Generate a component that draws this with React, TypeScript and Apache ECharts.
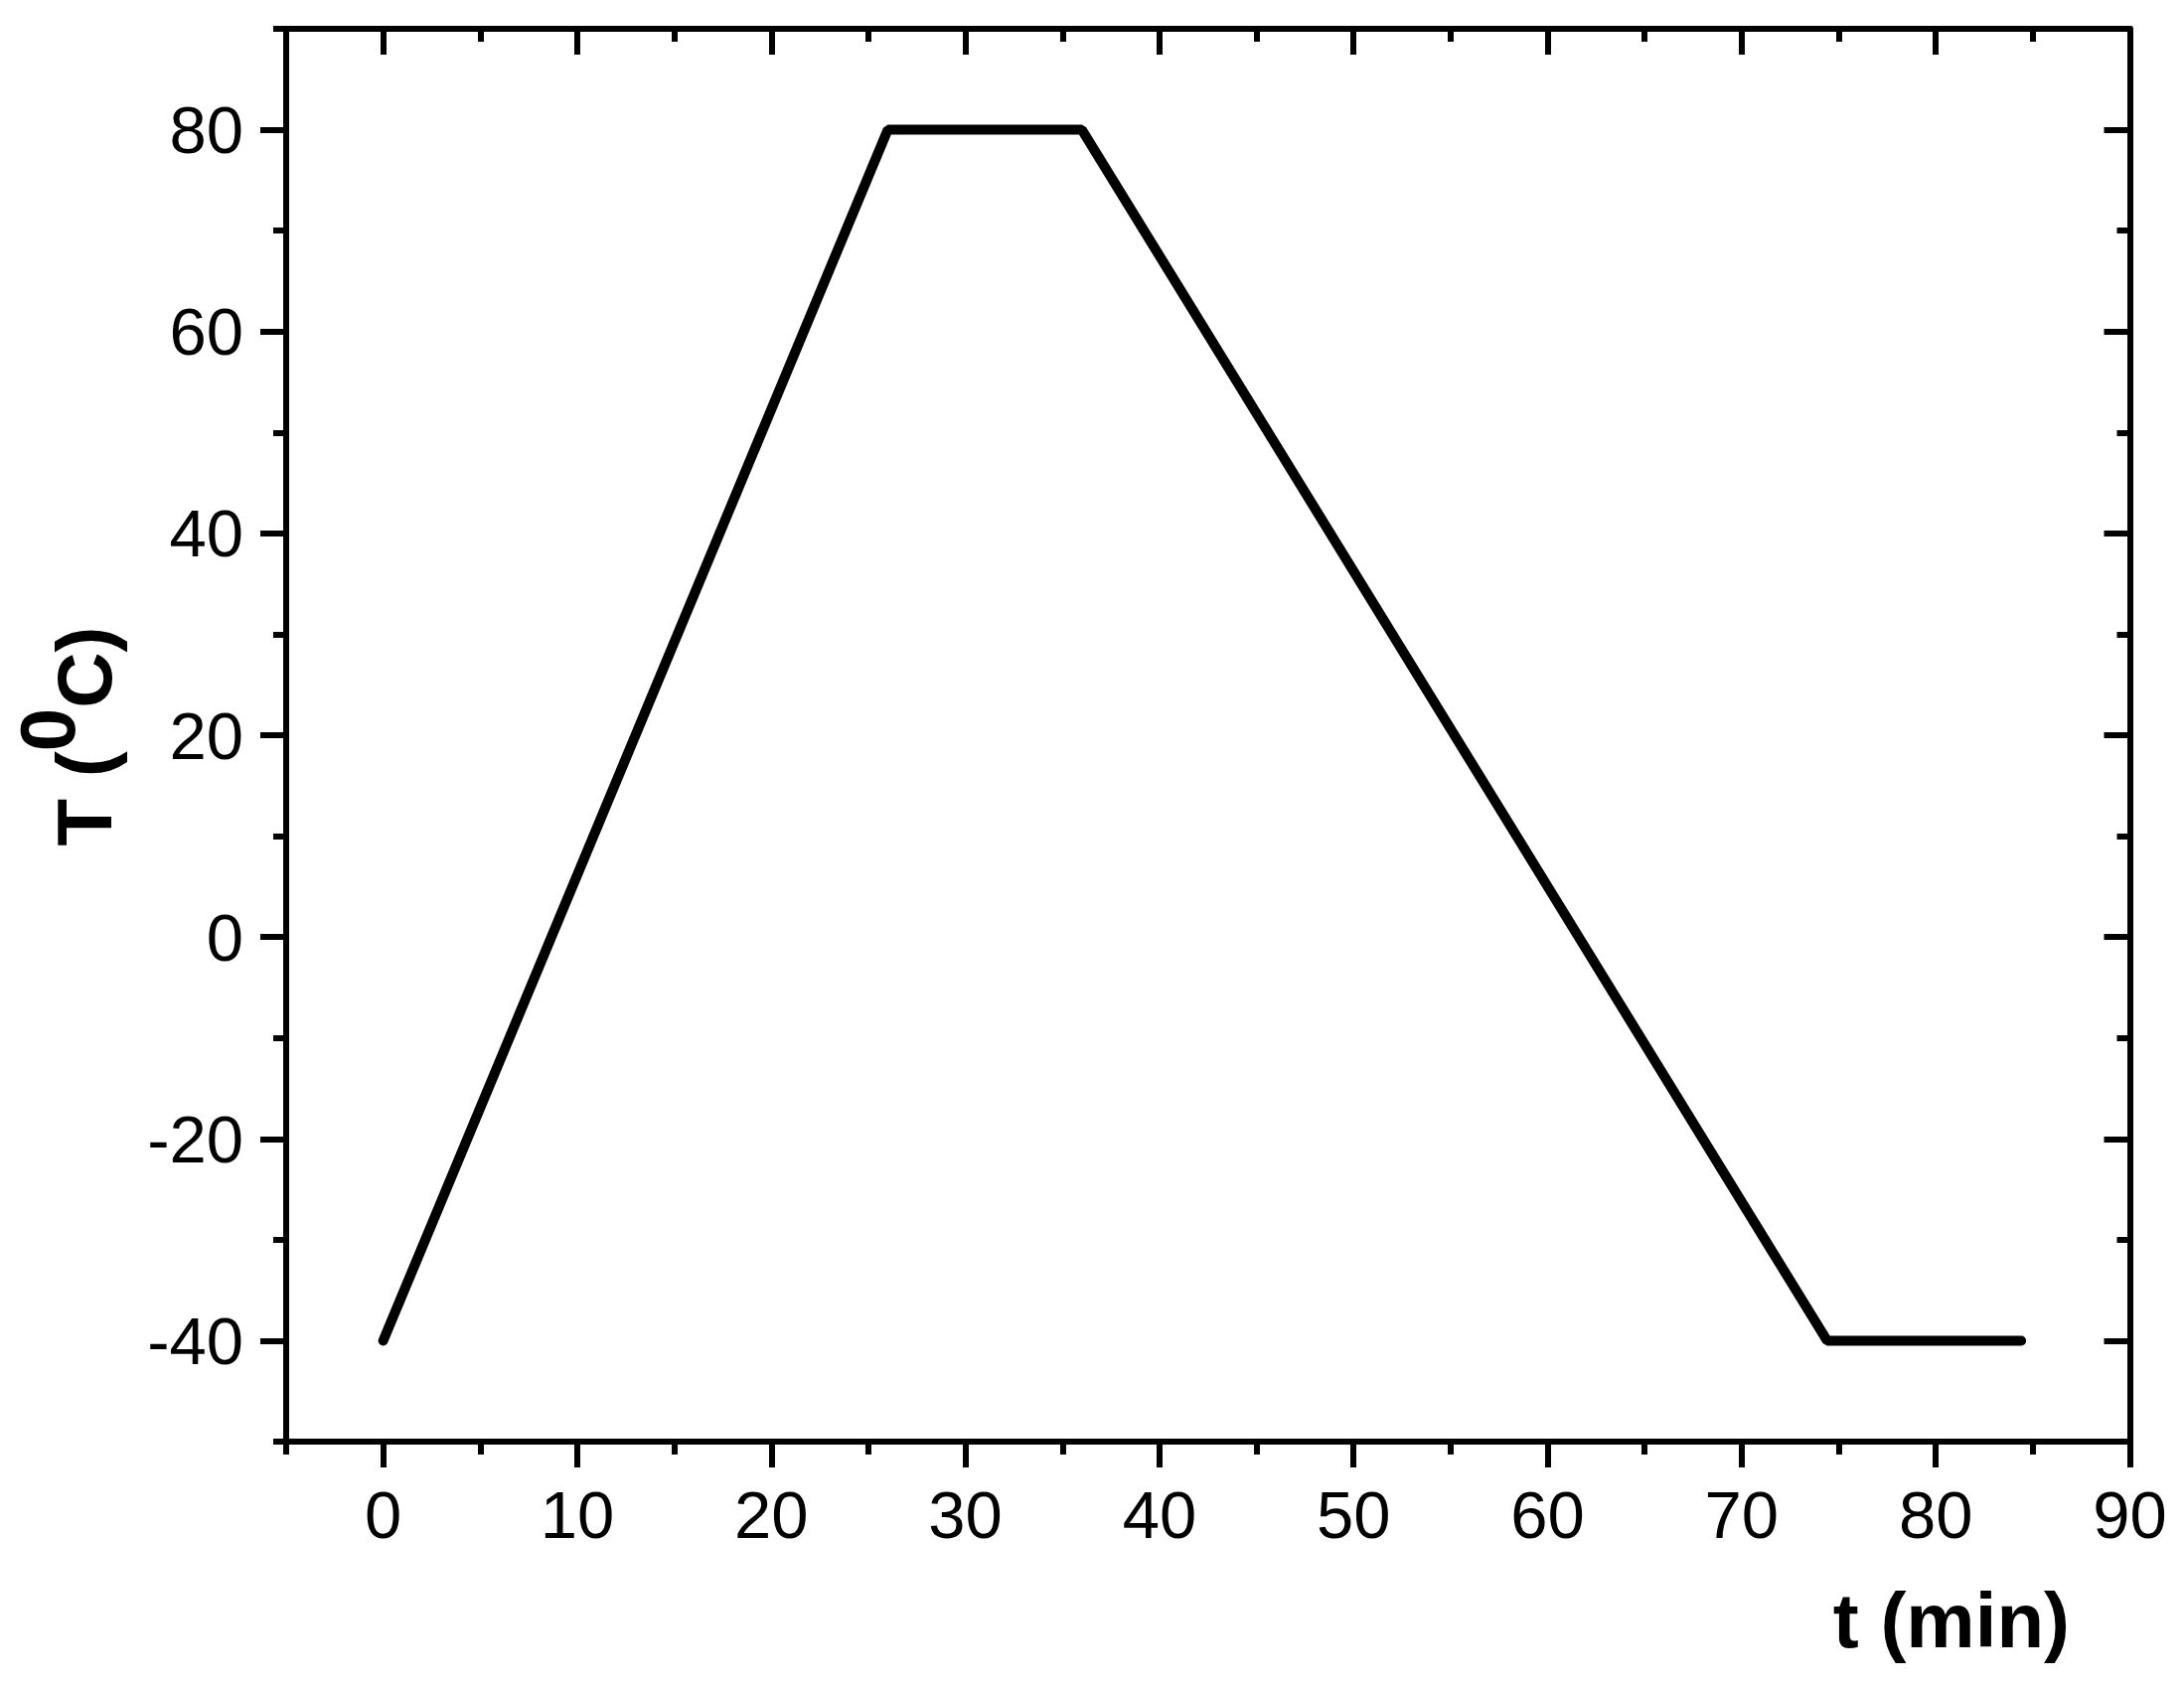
import React, { useEffect, useRef } from 'react';
import * as echarts from 'echarts';

// Data
const timeMin = [0, 26, 36, 74.4, 84.4];
const tempC = [-40, 80, 80, -40, -40];

// Tick values
const xMajorTicks = [0, 10, 20, 30, 40, 50, 60, 70, 80, 90];
const xMinorTicks = [-5, 5, 15, 25, 35, 45, 55, 65, 75, 85];
const yMajorTicks = [-40, -20, 0, 20, 40, 60, 80];
const yMinorTicks = [-50, -30, -10, 10, 30, 50, 70, 90];

const xTitle = 't (min)';
const yTitleRich = '{n|T (}{s|0}{n|C)}';

const FONT = '"Liberation Sans", Arial, sans-serif';
const BLACK = '#000';

function makeAxis(
  kind: 'x' | 'y',
  position: string,
  ticks: number[],
  length: number,
  inside: boolean,
  showLine: boolean,
  labels: boolean,
  margin: number
) {
  const isX = kind === 'x';
  return {
    type: 'value',
    gridIndex: 0,
    position,
    min: isX ? -5 : -50,
    max: 90,
    axisLine: { show: showLine, onZero: false, lineStyle: { color: BLACK, width: 6 } },
    axisTick: {
      show: true,
      inside,
      length,
      customValues: ticks,
      lineStyle: { color: BLACK, width: 6 },
    },
    axisLabel: labels
      ? {
          show: true,
          customValues: ticks,
          margin,
          color: BLACK,
          fontSize: 67,
          fontFamily: FONT,
        }
      : { show: false },
    splitLine: { show: false },
    minorTick: { show: false },
  };
}

export default function App() {
  const ref = useRef<HTMLDivElement>(null);

  useEffect(() => {
    if (!ref.current) return;
    const chart = echarts.init(ref.current, undefined, { renderer: 'svg' });

    const option = {
      animation: false,
      backgroundColor: '#fff',
      grid: { left: 288, right: 54.5, top: 29, bottom: 248, containLabel: false },
      xAxis: [
        makeAxis('x', 'bottom', xMajorTicks, 26, false, true, true, 40),
        makeAxis('x', 'bottom', xMinorTicks, 13, false, false, false, 0),
        makeAxis('x', 'top', xMajorTicks, 26, true, true, false, 0),
        makeAxis('x', 'top', xMinorTicks, 13, true, false, false, 0),
      ],
      yAxis: [
        makeAxis('y', 'left', yMajorTicks, 26, false, true, true, 43),
        makeAxis('y', 'left', yMinorTicks, 13, false, false, false, 0),
        makeAxis('y', 'right', yMajorTicks, 26, true, true, false, 0),
        makeAxis('y', 'right', yMinorTicks, 13, true, false, false, 0),
      ],
      series: [
        {
          type: 'line',
          xAxisIndex: 0,
          yAxisIndex: 0,
          data: timeMin.map((t, i) => [t, tempC[i]]),
          symbol: 'none',
          showSymbol: false,
          clip: false,
          lineStyle: { color: BLACK, width: 10, cap: 'round', join: 'bevel' },
        },
      ],
      graphic: [
        {
          type: 'text',
          x: 2083,
          y: 1631,
          style: {
            text: xTitle,
            fill: BLACK,
            fontSize: 78,
            fontWeight: 'bold',
            fontFamily: FONT,
            align: 'right',
            verticalAlign: 'middle',
          },
        },
        {
          type: 'text',
          x: 85,
          y: 741,
          rotation: Math.PI / 2,
          style: {
            text: yTitleRich,
            fill: BLACK,
            fontSize: 78,
            fontWeight: 'bold',
            fontFamily: FONT,
            align: 'center',
            verticalAlign: 'middle',
            rich: {
              n: { fill: BLACK, fontSize: 78, fontWeight: 'bold', fontFamily: FONT },
              s: {
                fill: BLACK,
                fontSize: 78,
                fontWeight: 'bold',
                fontFamily: FONT,
                padding: [0, 0, 74, 0],
              },
            },
          },
        },
      ],
    };

    chart.setOption(option as any);
    return () => chart.dispose();
  }, []);

  return (
    <div
      ref={ref}
      style={{ position: 'fixed', left: 0, top: 0, width: 2198, height: 1699, background: '#fff' }}
    />
  );
}
